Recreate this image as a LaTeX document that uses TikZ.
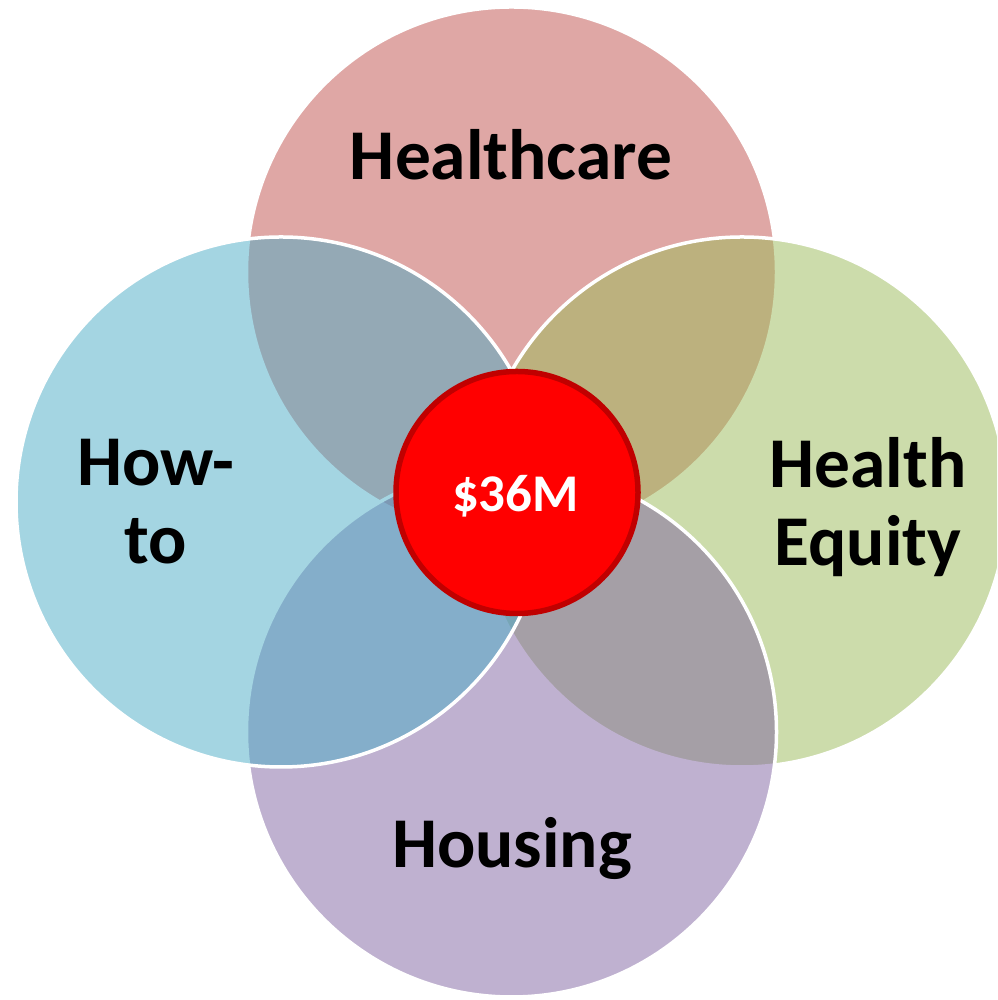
\documentclass[tikz,border=0pt]{standalone}
\usepackage{fontspec}
\setmainfont{Carlito}

\definecolor{hcarecol}{HTML}{C0504D}
\definecolor{equitycol}{HTML}{9BBB59}
\definecolor{housingcol}{HTML}{8064A2}
\definecolor{howtocol}{HTML}{4BACC6}
\definecolor{darkred}{HTML}{C00000}

\tikzset{every picture/.style={line width=1.75pt},
	venn/.style={circle,draw=white,fill opacity=0.5,draw opacity=1,minimum size=265pt,inner sep=0pt},
	bigword/.style={font=\bfseries\fontsize{35.7}{39}\selectfont,align=center,inner sep=0pt}}

\begin{document}
\begin{tikzpicture}[x=0.5pt,y=0.5pt]
			\useasboundingbox (0,0) rectangle (997,1000);
			\fill[white] (0,0) rectangle (997,1000);
			\clip (0,0) rectangle (997,1000);
			% four sets, drawn bottom to top
			\node [venn,fill=hcarecol] (hcare) at (511.5,728) {};
			\node [venn,fill=equitycol] (equity) at (742,498) {};
			\node [venn,fill=housingcol] (housing) at (511.5,268) {};
			\node [venn,fill=howtocol] (howto) at (281,498) {};
			% centre
			\node [circle,fill=red,draw=darkred,line width=2.75pt,minimum size=121pt,inner sep=0pt] (money) at (517,507.5) {};
			\node [bigword,anchor=base] (hcaretxt) at (511,820) {Healthcare};
			\node [bigword,anchor=base] (housingtxt) at (512,132) {Housing};
			\node [bigword] (howtotxt) at (156,498) {How-\\to};
			\node [bigword] (equitytxt) at (868,493) {Health\\Equity};
			\node [font=\bfseries\fontsize{26.5}{30}\selectfont,text=white,inner sep=0pt,anchor=base] (moneytxt) at (515.5,488) {\$36M};
		\end{tikzpicture}
\end{document}
